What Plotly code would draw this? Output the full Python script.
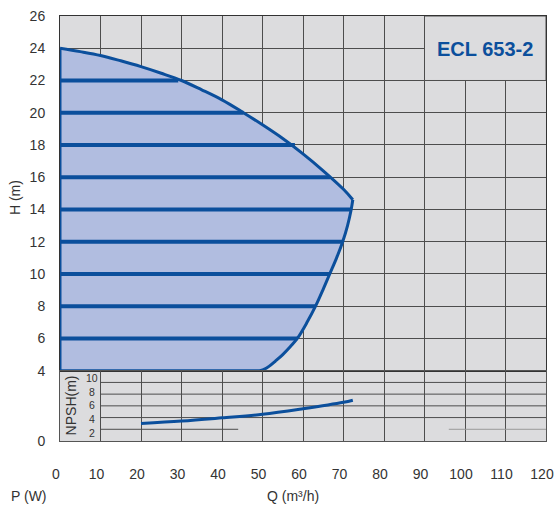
import plotly.graph_objects as go

# ---------------- data ----------------
q_upper = [0, 5, 10, 15, 20, 25, 30, 35, 40, 45, 50, 55, 60, 65, 70, 72.3]
h_upper = [24, 23.79, 23.55, 23.22, 22.86, 22.45, 22.0, 21.42, 20.8, 20.05, 19.25, 18.4, 17.45, 16.4, 15.25, 14.6]

q_lower = [72.3, 71.9, 71.0, 69.8, 68.3, 66.6, 64.9, 63.1, 61.0, 58.6, 56.9, 55.0, 53.2, 51.6, 50.5, 49.4]
h_lower = [14.6, 14.0, 13.0, 12.0, 11.0, 10.0, 9.0, 8.0, 7.0, 6.0, 5.5, 5.0, 4.6, 4.27, 4.1, 4.0]

h_base = 4
q_base = 0

stripe_h = [6, 8, 10, 12, 14, 16, 18, 20, 22]
stripe_q_end = [58.6, 63.1, 66.6, 69.8, 71.9, 66.7, 58.0, 45.3, 29.2]

npsh_q = [20, 30, 40, 50, 60, 70, 72.3]
npsh_v = [3.0, 3.4, 3.95, 4.55, 5.5, 6.6, 6.95]

h_ticks = [4, 6, 8, 10, 12, 14, 16, 18, 20, 22, 24, 26]
npsh_ticks = [2, 4, 6, 8, 10]
q_ticks = [0, 10, 20, 30, 40, 50, 60, 70, 80, 90, 100, 110, 120]

title_text = "ECL 653-2"

# ---------------- style ----------------
BLUE = "#0b4f9c"
FILL = "#b1bde0"
BG = "#dcdcde"
GRID = "#4d4d4d"
TXT = "#333333"
FONT = "Liberation Sans, Arial, sans-serif"

split = 0.1654

fig = go.Figure()

poly_q = [q_base] + q_upper + q_lower[1:] + [q_base]
poly_h = [h_base] + h_upper + h_lower[1:] + [h_base]

# envelope fill
fig.add_trace(go.Scatter(
    x=poly_q, y=poly_h, mode="lines", fill="toself", fillcolor=FILL,
    line=dict(color="rgba(0,0,0,0)", width=0), xaxis="x", yaxis="y",
    hoverinfo="skip", showlegend=False))

# stripes
for h, qe in zip(stripe_h, stripe_q_end):
    fig.add_trace(go.Scatter(
        x=[q_base, qe], y=[h, h], mode="lines",
        line=dict(color=BLUE, width=4), xaxis="x", yaxis="y",
        hoverinfo="skip", showlegend=False))

# outline: upper curve, lower curve, left edge, bottom edge
fig.add_trace(go.Scatter(x=q_upper, y=h_upper, mode="lines",
                         line=dict(color=BLUE, width=3, shape="spline"),
                         xaxis="x", yaxis="y", hoverinfo="skip", showlegend=False))
fig.add_trace(go.Scatter(x=q_lower, y=h_lower, mode="lines",
                         line=dict(color=BLUE, width=3, shape="spline"),
                         xaxis="x", yaxis="y", hoverinfo="skip", showlegend=False))
fig.add_trace(go.Scatter(x=[q_lower[-1], q_base, q_base], y=[h_base, h_base, h_upper[0]],
                         mode="lines", line=dict(color=BLUE, width=3),
                         xaxis="x", yaxis="y", hoverinfo="skip", showlegend=False))

# NPSH curve
fig.add_trace(go.Scatter(
    x=npsh_q, y=npsh_v, mode="lines", line=dict(color=BLUE, width=3, shape="spline"),
    xaxis="x2", yaxis="y2", hoverinfo="skip", showlegend=False))

shapes = []
# title box covering grid
shapes.append(dict(type="rect", xref="x", yref="y", x0=90, x1=120, y0=22, y1=26,
                   fillcolor=BG, line=dict(color=GRID, width=1), layer="between"))
# NPSH horizontal grid (starts at Q=10)
for v in npsh_ticks[1:]:
    shapes.append(dict(type="line", xref="x2", yref="y2", x0=10, x1=120, y0=v, y1=v,
                       line=dict(color=GRID, width=1), layer="between"))
shapes.append(dict(type="line", xref="x2", yref="y2", x0=10, x1=44, y0=2, y1=2,
                   line=dict(color=GRID, width=1), layer="between"))
shapes.append(dict(type="line", xref="x2", yref="y2", x0=96, x1=120, y0=2, y1=2,
                   line=dict(color="#9a9a9a", width=1), layer="between"))

C = dict(xanchor="center", yanchor="middle", showarrow=False)
annotations = [
    dict(text=title_text, xref="x", yref="y", x=105, y=23.95,
         font=dict(family=FONT, size=20, color=BLUE, weight="bold"), **C),
    dict(text="NPSH(m)", xref="x2", yref="y2", x=2.6, y=6, textangle=-90,
         font=dict(family=FONT, size=14, color=TXT), **C),
    dict(text="<br>".join(str(v) for v in reversed(npsh_ticks)), xref="x2", yref="y2",
         x=8, y=6, align="center", borderpad=0,
         font=dict(family=FONT, size=10.5, color=TXT), **C),
    dict(text="H (m)", xref="paper", yref="paper", x=-0.0926, y=0.574, textangle=-90,
         font=dict(family=FONT, size=14, color=TXT), **C),
    dict(text="Q (m³/h)", xref="paper", yref="paper", x=0.48, y=-0.129,
         font=dict(family=FONT, size=14, color=TXT), **C),
    dict(text="P (W)", xref="paper", yref="paper", x=-0.063, y=-0.129,
         font=dict(family=FONT, size=14, color=TXT), **C),
]

common = dict(zeroline=False, ticks="", automargin=False, ticklabeloverflow="allow")

fig.update_layout(
    width=555, height=512,
    margin=dict(l=60, r=9, t=16, b=71, autoexpand=False),
    paper_bgcolor="white", plot_bgcolor=BG,
    font=dict(family=FONT, size=14, color=TXT),
    showlegend=False,
    xaxis=dict(domain=[0, 1], range=[0, 120], anchor="y", tickvals=q_ticks,
               showticklabels=False, showgrid=True, gridcolor=GRID, gridwidth=1,
               showline=True, mirror=True, linecolor="#333333", linewidth=1, **common),
    yaxis=dict(domain=[split, 1], range=[4, 26], anchor="x", tickvals=h_ticks,
               showgrid=True, gridcolor=GRID, gridwidth=1,
               showline=True, mirror=True, linecolor="#333333", linewidth=1,
               ticklabelstandoff=11, tickfont=dict(size=14, color=TXT), **common),
    xaxis2=dict(domain=[0, 1], range=[0, 120], anchor="y2", tickvals=q_ticks,
                showgrid=True, gridcolor=GRID, gridwidth=1,
                showline=True, mirror=True, linecolor="#555555", linewidth=1,
                ticklabelstandoff=20, ticklabelshift=-4,
                tickfont=dict(size=14, color=TXT), **common),
    yaxis2=dict(domain=[0, split], range=[0, 12], anchor="x2", tickvals=[0], ticktext=["0"],
                showgrid=False, showline=True, mirror=True,
                linecolor="#555555", linewidth=1, ticklabelstandoff=11,
                tickfont=dict(size=14, color=TXT), **common),
    shapes=shapes, annotations=annotations,
)

# remove the default page margin / scrollbars so the figure fills the window exactly
page_fix = ("document.body.style.margin='0';document.body.style.overflow='hidden';"
            "document.documentElement.style.overflow='hidden';")
fig.write_html("out.html", post_script=page_fix,
               config={"displayModeBar": False, "staticPlot": True})
